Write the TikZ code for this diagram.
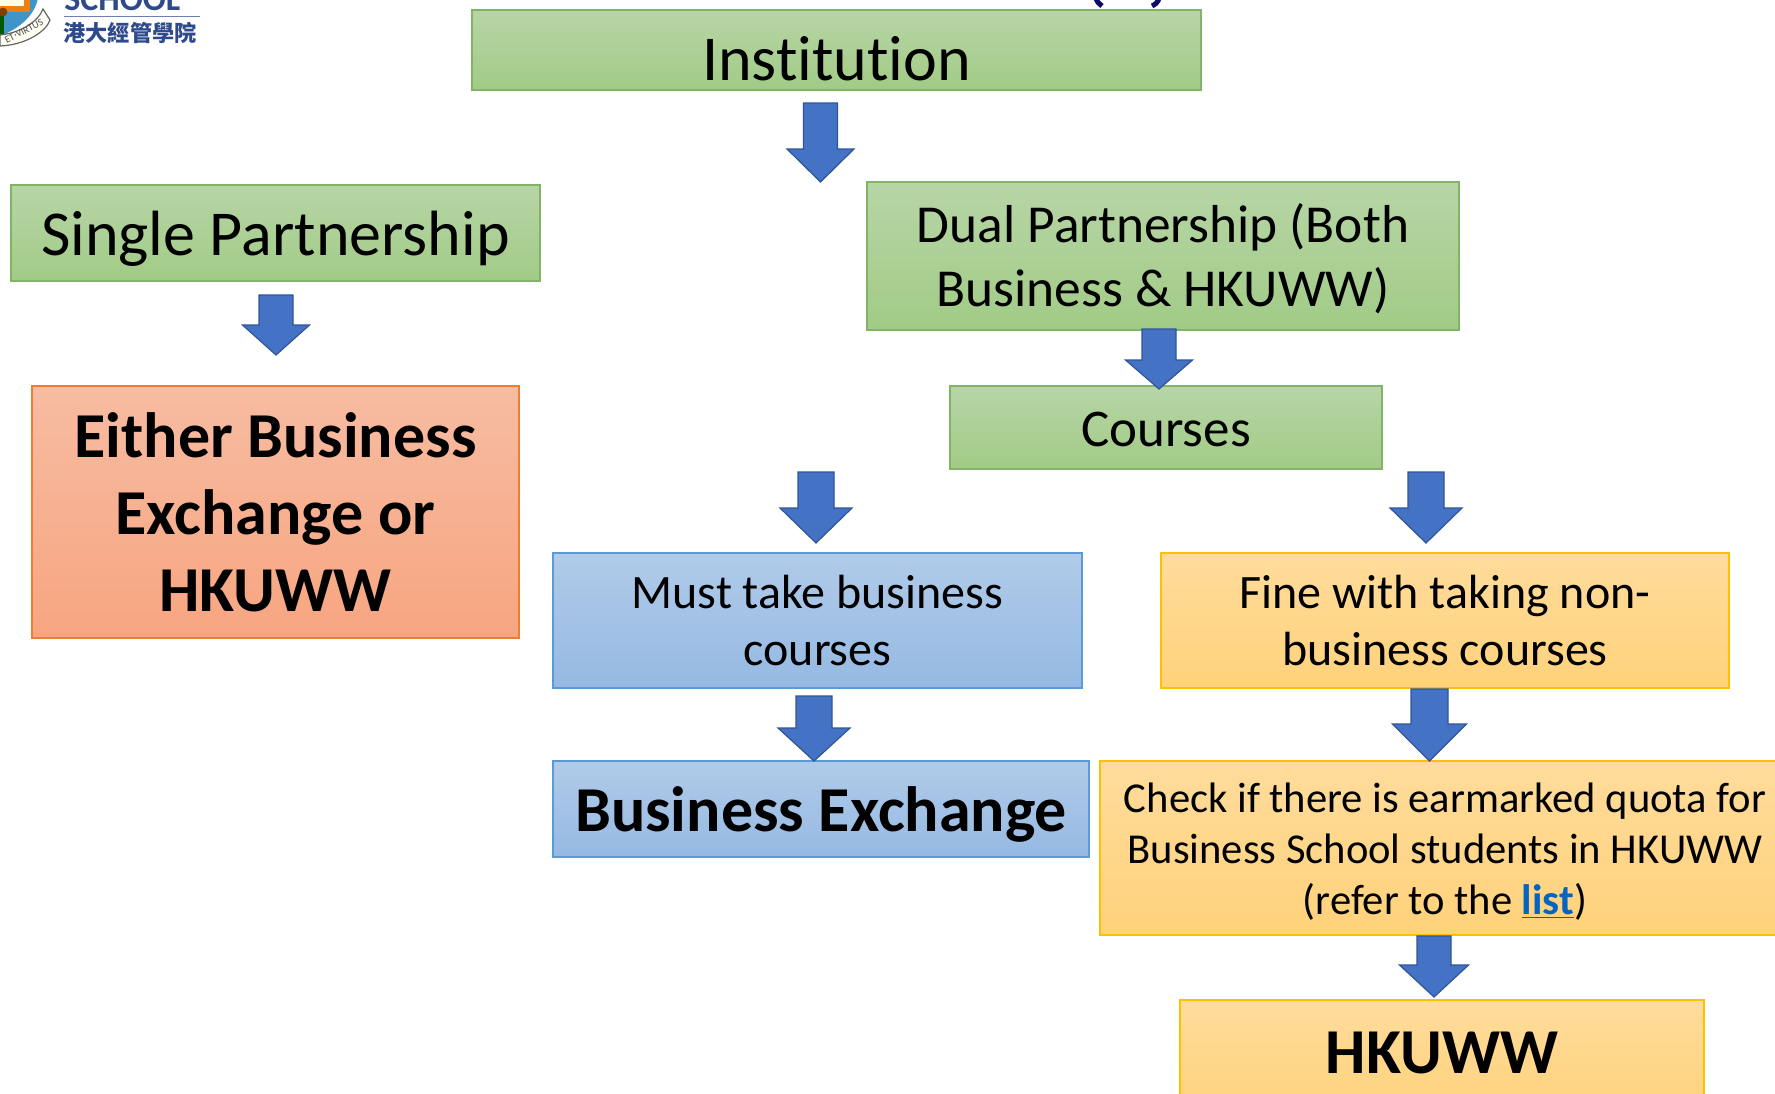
\documentclass[tikz,border=0pt]{standalone}
\usepackage{fontspec}
\setmainfont[Ligatures=NoCommon]{Carlito}
\newfontfamily\cjkfont{Noto Sans CJK TC}

\definecolor{arrowblue}{HTML}{4472C4}
\definecolor{arrowedge}{HTML}{2F5597}
\definecolor{linkblue}{HTML}{0563C1}
\definecolor{schoolblue}{HTML}{2F4A8C}
\definecolor{crestblue}{HTML}{3F94C8}
\definecolor{navy}{HTML}{0B0B6B}
\definecolor{greenedge}{HTML}{82B366}
\definecolor{greentop}{HTML}{B7D5A6}
\definecolor{greenbot}{HTML}{A1CB86}
\definecolor{blueedge}{HTML}{5B9BD5}
\definecolor{bluetop}{HTML}{B1CBE9}
\definecolor{bluebot}{HTML}{95B9E3}
\definecolor{rededge}{HTML}{ED7D31}
\definecolor{redtop}{HTML}{F7BCA2}
\definecolor{redbot}{HTML}{F7A580}
\definecolor{yellowedge}{HTML}{FFC000}
\definecolor{yellowtop}{HTML}{FFDC9C}
\definecolor{yellowbot}{HTML}{FFD27A}

\tikzset{
  box/.style={rectangle, draw, line width=0.55pt, inner sep=0pt, align=center, text=black},
  greenbox/.style={box, draw=greenedge, top color=greentop, bottom color=greenbot},
  bluebox/.style={box, draw=blueedge, top color=bluetop, bottom color=bluebot},
  redbox/.style={box, draw=rededge, top color=redtop, bottom color=redbot},
  yellowbox/.style={box, draw=yellowedge, top color=yellowtop, bottom color=yellowbot},
  blockarrow/.style={draw=arrowedge, fill=arrowblue, line width=0.6pt, line join=miter}
}
% name, x and y of the top, half shaft, half head, shaft length, full length
\newcommand{\arrowblock}[7]{%
  \coordinate (#1) at (#2,#3);
  \draw[blockarrow] (#1) ++(-#4,0) -- ++(2*#4,0) -- ++(0,#6) -- (#2+#5,#3+#6) -- (#2,#3+#7)
    -- (#2-#5,#3+#6) -- (#2-#4,#3+#6) -- cycle;
}
% text lower in its box
\newcommand{\lowered}[2]{\raisebox{-#1}[\height][\depth]{#2}}

\begin{document}
\begin{tikzpicture}[x=0.5pt,y=-0.5pt]
\useasboundingbox (0,0) rectangle (1775,1093);
\clip (0,0) rectangle (1775,1093);

% Logo
\fill[crestblue] (-2,-2) -- (38,-2) .. controls (36,10) and (26,26) .. (0,36) -- cycle;
\fill[orange!70!brown] (-2,-2) rectangle (30,12);
\fill[white!90!yellow] (-2,-2) rectangle (24,6);
\fill[green!35!black] (0,13) rectangle (4,36);
\fill[black!50!orange] (3,12) circle (2.2pt);
\draw[line width=0.6pt,draw=black!60,fill=white!95!yellow] (0,46) .. controls (25,45) and (46,32) .. (50,20)
  -- (43,9) .. controls (38,22) and (20,33) .. (0,35) -- cycle;
\node[rotate=27,font=\fontsize{5}{6}\selectfont,text=black!70,inner sep=0pt] (motto) at (24,31) {ET·VIRTUS};
\node[anchor=base west,inner sep=0pt,font=\fontsize{17}{17}\selectfont\bfseries,text=schoolblue] (school) at (64,10) {SCHOOL};
\draw[schoolblue!70,line width=0.4pt] (64,16.5) -- (200,16.5);
\node[anchor=base west,inner sep=0pt,font=\cjkfont\fontsize{11.1}{12}\selectfont\bfseries,text=schoolblue] (cname) at (63,41) {港大經管學院};

% Title fragments
\draw[navy,line width=2.5pt] (1096,-2) .. controls (1097,2) and (1099,4) .. (1102,6);
\draw[navy,line width=2.5pt] (1159,-2) .. controls (1158,2) and (1156,4) .. (1152,6);

% Boxes
\node[greenbox,minimum width=364.5pt,minimum height=40pt,font=\fontsize{32}{36}\selectfont] (inst) at (836.5,50)
  {\lowered{4.5pt}{Institution}};
\node[greenbox,minimum width=264.5pt,minimum height=48pt,font=\fontsize{32}{36}\selectfont] (single) at (275.5,233)
  {\lowered{2.8pt}{Single Partnership}};
\node[redbox,minimum width=243.5pt,minimum height=126pt,font=\fontsize{32}{38.5}\selectfont\bfseries] (either) at (275.5,512)
  {Either Business\\Exchange or\\HKUWW};
\node[greenbox,minimum width=296pt,minimum height=74pt,font=\fontsize{26.7}{32}\selectfont] (dual) at (1163,256)
  {\lowered{1.1pt}{Dual Partnership (Both}\\\lowered{1.1pt}{Business \& HKUWW)}};
\node[greenbox,minimum width=216pt,minimum height=41.5pt,font=\fontsize{26.5}{32}\selectfont] (courses) at (1166,427.5)
  {\lowered{1.1pt}{Courses}};
\node[bluebox,minimum width=264.5pt,minimum height=67.5pt,font=\fontsize{24}{28.5}\selectfont] (must) at (817.5,620.5)
  {Must take business\\courses};
\node[yellowbox,minimum width=284pt,minimum height=67.5pt,font=\fontsize{24}{28.5}\selectfont] (fine) at (1445,620.5)
  {Fine with taking non-\\business courses};
\node[bluebox,minimum width=268pt,minimum height=48pt,font=\fontsize{32}{36}\selectfont\bfseries] (bizex) at (821,809)
  {\lowered{2.8pt}{Business Exchange}};
\node[yellowbox,minimum width=345pt,minimum height=87pt,font=\fontsize{21.3}{25.5}\selectfont] (check) at (1445,848)
  {\lowered{1.7pt}{Check if there is earmarked quota for}\\\lowered{1.7pt}{Business School students in HKUWW}\\\lowered{1.7pt}{(refer to the {\color{linkblue}\bfseries\underline{list}})}};
\node[yellowbox,minimum width=262pt,minimum height=60pt,font=\fontsize{32}{36}\selectfont\bfseries] (hkuww) at (1442,1060)
  {\lowered{-3.4pt}{HKUWW}};

% Arrows
\arrowblock{arrInst}{820.5}{103}{17}{33.5}{46}{79}
\arrowblock{arrSingle}{276}{295}{17}{33.5}{30}{60}
\arrowblock{arrDual}{1159}{329}{17}{33.5}{31}{60}
\arrowblock{arrMust}{816}{472}{18}{36}{36}{71}
\arrowblock{arrFine}{1426}{472}{18}{36}{36}{71}
\arrowblock{arrBiz}{814}{696}{18}{36}{32}{65}
\arrowblock{arrCheck}{1429.5}{689}{18.5}{37}{35}{72}
\arrowblock{arrQuota}{1434}{936}{17}{34.5}{29}{61}
\end{tikzpicture}
\end{document}
